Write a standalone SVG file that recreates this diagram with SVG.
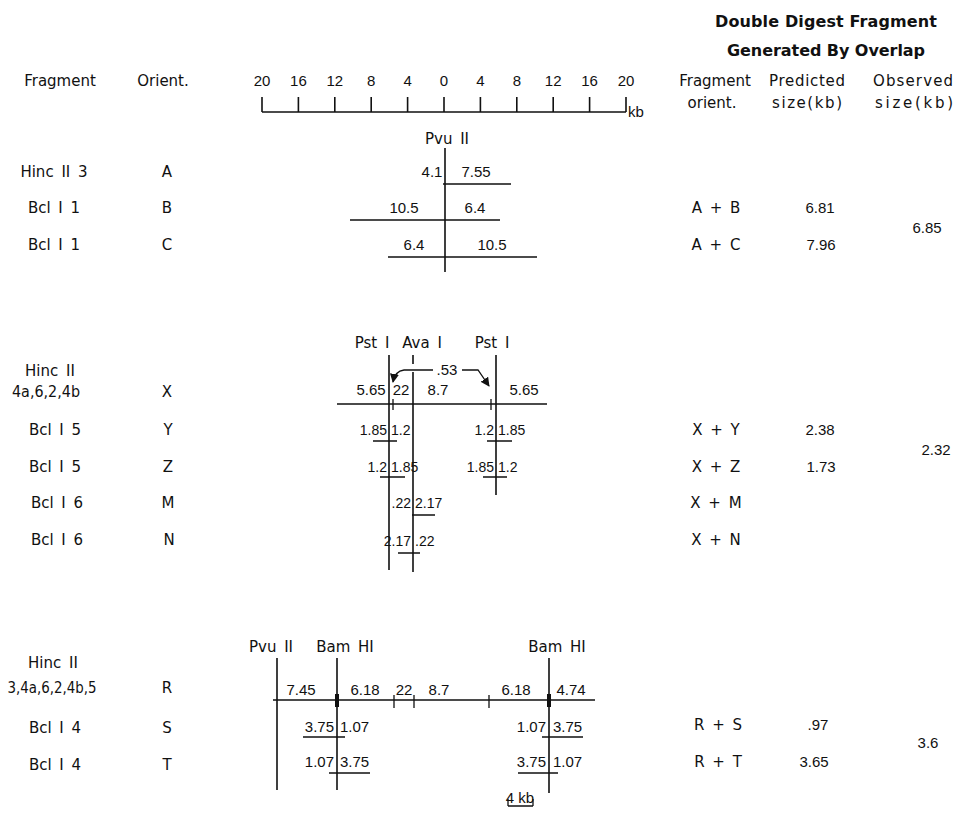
<svg xmlns="http://www.w3.org/2000/svg" width="978" height="818" viewBox="0 0 978 818">
<defs>
<style>
.t{font-family:"DejaVu Sans",sans-serif;font-size:15px;fill:#111;word-spacing:3px}
.n{font-family:"Liberation Sans",sans-serif;font-size:15px;fill:#111;text-anchor:middle}
.s{font-family:"Liberation Sans",sans-serif;font-size:14px;fill:#111}
.e{text-anchor:end}
.c{text-anchor:middle}
.h{font-family:"DejaVu Sans",sans-serif;font-size:16px;font-weight:bold;fill:#111;text-anchor:middle}
.l{stroke:#111;stroke-width:1.6;fill:none}
.tk{stroke:#111;stroke-width:1.3;fill:none}
</style>
<marker id="ah" viewBox="0 0 10 10" refX="9" refY="5" markerWidth="7" markerHeight="7" orient="auto"><path d="M0,0 L10,5 L0,10 z" fill="#111"/></marker>
</defs>
<rect width="978" height="818" fill="#fff"/>

<g id="header">
<text class="h" x="826" y="27" textLength="222" lengthAdjust="spacing">Double Digest Fragment</text>
<text class="h" x="826" y="56" textLength="198" lengthAdjust="spacing">Generated By Overlap</text>
<text class="t c" x="60" y="86">Fragment</text>
<text class="t c" x="163" y="86">Orient.</text>
<text class="t c" x="715" y="86">Fragment</text>
<text class="t c" x="807" y="86" textLength="76" lengthAdjust="spacing">Predicted</text>
<text class="t c" x="913" y="86" textLength="80" lengthAdjust="spacing">Observed</text>
<text class="t c" x="712" y="108">orient.</text>
<text class="t c" x="807" y="108" textLength="70" lengthAdjust="spacing">size(kb)</text>
<text class="t c" x="914" y="108" textLength="78" lengthAdjust="spacing">size(kb)</text>
</g>

<g id="scale">
<g class="n">
<text x="262" y="86">20</text><text x="298.4" y="86">16</text><text x="334.8" y="86">12</text><text x="371.2" y="86">8</text><text x="407.6" y="86">4</text><text x="444" y="86">0</text><text x="480.4" y="86">4</text><text x="516.8" y="86">8</text><text x="553.2" y="86">12</text><text x="589.6" y="86">16</text><text x="626" y="86">20</text>
</g>
<path class="l" d="M262 112 H626 M262 97 V112 M298.4 97 V112 M334.8 97 V112 M371.2 97 V112 M407.6 97 V112 M444 97 V112 M480.4 97 V112 M516.8 97 V112 M553.2 97 V112 M589.6 97 V112 M626 97 V112"/>
<text class="s" x="628" y="117" style="font-size:15px">kb</text>
</g>

<g id="section1">
<text class="t c" x="54" y="177">Hinc II 3</text>
<text class="t c" x="167" y="177">A</text>
<text class="t c" x="54" y="213">Bcl I 1</text>
<text class="t c" x="167" y="213">B</text>
<text class="t c" x="54" y="250">Bcl I 1</text>
<text class="t c" x="167" y="250">C</text>
<text class="t c" x="447" y="144">Pvu II</text>
<path class="l" d="M445 148 V272 M443 184 H511 M350 220 H500 M388 257 H537"/>
<g class="n">
<text x="432" y="177">4.1</text><text x="476" y="177">7.55</text>
<text x="404" y="213">10.5</text><text x="475" y="213">6.4</text>
<text x="414" y="250">6.4</text><text x="492" y="250">10.5</text>
</g>
<text class="t c" x="716" y="213">A + B</text>
<text class="t c" x="716" y="250">A + C</text>
<g class="n"><text x="820" y="213">6.81</text><text x="821" y="250">7.96</text><text x="927" y="233">6.85</text></g>
</g>

<g id="section2">
<text class="t" x="25" y="376">Hinc II</text>
<text class="t c" x="46" y="397" textLength="68" lengthAdjust="spacingAndGlyphs">4a,6,2,4b</text>
<text class="t c" x="167" y="397">X</text>
<text class="t c" x="55" y="435">Bcl I 5</text>
<text class="t c" x="168" y="435">Y</text>
<text class="t c" x="55" y="472">Bcl I 5</text>
<text class="t c" x="168" y="472">Z</text>
<text class="t c" x="57" y="508">Bcl I 6</text>
<text class="t c" x="168" y="508">M</text>
<text class="t c" x="57" y="545">Bcl I 6</text>
<text class="t c" x="169" y="545">N</text>
<text class="t c" x="372" y="348">Pst I</text>
<text class="t c" x="422" y="348">Ava I</text>
<text class="t c" x="492" y="348">Pst I</text>
<path class="l" d="M389 355 V570 M413 355 V364 M413 372 V572 M496 355 V495 M337 404 H547"/>
<path class="tk" d="M393 399 V410 M491 399 V410"/>
<path class="tk" d="M433 370 H404 Q395 371 393 382" marker-end="url(#ah)"/>
<path class="tk" d="M462 370 H478 L489 386" marker-end="url(#ah)"/>
<text class="n" x="447" y="375">.53</text>
<g class="n">
<text x="371" y="395">5.65</text><text x="401" y="395">22</text><text x="438" y="395">8.7</text><text x="524" y="395">5.65</text>
</g>
<g class="s">
<text class="e" x="387" y="435">1.85</text><text x="391" y="435">1.2</text>
<text class="e" x="494" y="435">1.2</text><text x="498" y="435">1.85</text>
<text class="e" x="387" y="472">1.2</text><text x="391" y="472">1.85</text>
<text class="e" x="494" y="472">1.85</text><text x="498" y="472">1.2</text>
<text class="e" x="411" y="508">.22</text><text x="415" y="508">2.17</text>
<text class="e" x="411" y="546">2.17</text><text x="415" y="546">.22</text>
</g>
<path class="tk" d="M373 441 H397 M487 441 H512 M380 477 H405 M483 477 H507 M412 515 H435 M398 553 H420"/>
<text class="t c" x="716" y="435">X + Y</text>
<text class="t c" x="716" y="472">X + Z</text>
<text class="t c" x="716" y="508">X + M</text>
<text class="t c" x="716" y="545">X + N</text>
<g class="n"><text x="820" y="435">2.38</text><text x="821" y="472">1.73</text><text x="936" y="455">2.32</text></g>
</g>

<g id="section3">
<text class="t c" x="53" y="668">Hinc II</text>
<text class="t c" x="52" y="693" textLength="89" lengthAdjust="spacingAndGlyphs">3,4a,6,2,4b,5</text>
<text class="t c" x="167" y="693">R</text>
<text class="t c" x="55" y="733">Bcl I 4</text>
<text class="t c" x="167" y="733">S</text>
<text class="t c" x="55" y="770">Bcl I 4</text>
<text class="t c" x="167" y="770">T</text>
<text class="t c" x="271" y="652">Pvu II</text>
<text class="t c" x="345" y="652">Bam HI</text>
<text class="t c" x="557" y="652">Bam HI</text>
<path class="l" d="M277 658 V790 M337 658 V790 M549 658 V793 M273 700 H595"/>
<rect x="335" y="694" width="4" height="13" fill="#111"/>
<rect x="547" y="694" width="4" height="13" fill="#111"/>
<path class="tk" d="M394 695 V708 M414 695 V708 M489 695 V708"/>
<g class="n">
<text x="301" y="695">7.45</text><text x="365" y="695">6.18</text><text x="404" y="695">22</text><text x="439" y="695">8.7</text><text x="516" y="695">6.18</text><text x="571" y="695">4.74</text>
</g>
<g class="s" style="font-size:15px">
<text class="e" x="334" y="732">3.75</text><text x="340" y="732">1.07</text><text class="e" x="546" y="732">1.07</text><text x="553" y="732">3.75</text>
<text class="e" x="334" y="767">1.07</text><text x="340" y="767">3.75</text><text class="e" x="546" y="767">3.75</text><text x="553" y="767">1.07</text>
</g>
<path class="tk" d="M303 737 H345 M542 737 H583 M329 773 H370 M518 773 H558"/>
<text class="t c" x="718" y="730">R + S</text>
<text class="t c" x="718" y="767">R + T</text>
<g class="n"><text x="818" y="730">.97</text><text x="814" y="767">3.65</text><text x="928" y="748">3.6</text></g>
<text class="n" x="520" y="803">4 kb</text>
<path class="tk" d="M508 806 H533 M508 799 V806 M533 799 V806"/>
</g>
</svg>
